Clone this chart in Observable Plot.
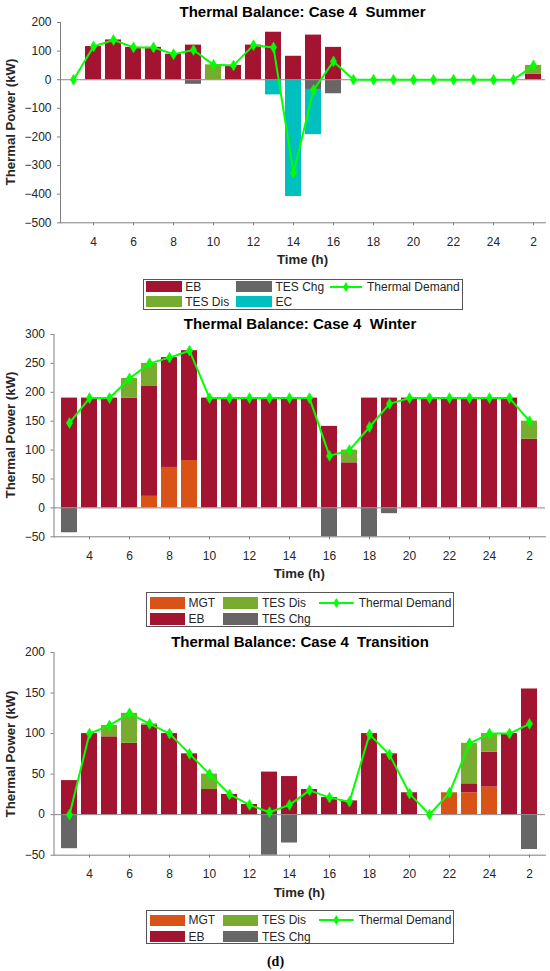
<!DOCTYPE html>
<html><head><meta charset="utf-8">
<script src="https://cdn.jsdelivr.net/npm/d3@7"></script>
<script src="https://cdn.jsdelivr.net/npm/@observablehq/plot@0.6"></script>
<style>
body{margin:0;background:#fff;font-family:"Liberation Sans",Arial,sans-serif;}
#root{position:relative;width:550px;height:971px;overflow:hidden;background:#fff;}
.abs{position:absolute;}
.title{font-weight:bold;font-size:15px;color:#000;white-space:pre;transform:translate(-50%,-50%);}
.xlab{font-weight:bold;font-size:13.2px;color:#262626;white-space:nowrap;transform:translate(-50%,-50%);}
.ylab{font-weight:bold;font-size:13.2px;color:#262626;white-space:nowrap;transform:translate(-50%,-50%) rotate(-90deg);}
.legend{border:1px solid #555;background:#fff;box-sizing:border-box;}
.item{position:absolute;display:flex;align-items:center;font-size:12px;color:#262626;white-space:nowrap;transform:translateY(-50%);}
.cap{font-family:"Liberation Serif","Times New Roman",serif;font-weight:bold;font-size:14px;color:#000;transform:translate(-50%,-50%);}
</style>
</head><body><div id="root"></div>
<script>
// ---------- data ----------
const hourLabels = ["3","4","5","6","7","8","9","10","11","12","13","14","15","16","17","18","19","20","21","22","23","24","1","2"];
const xTickLabels = ["4","6","8","10","12","14","16","18","20","22","24","2"];

// Summer
const summerEB      = [0,116,139,113,113,89,121,0,50,121,166,82,156,113,0,0,0,0,0,0,0,0,0,20];
const summerTESDis  = [0,0,0,0,0,0,0,52,0,0,0,0,0,0,0,0,0,0,0,0,0,0,0,30];
const summerTESChg  = [0,0,0,0,0,0,-16,0,0,0,0,0,-34,-49,0,0,0,0,0,0,0,0,0,0];
const summerEC      = [0,0,0,0,0,0,0,0,0,0,-53,-408,-158,0,0,0,0,0,0,0,0,0,0,0];
const summerDemand  = [0,116,139,113,113,89,104,52,50,121,113,-326,-36,64,0,0,0,0,0,0,0,0,0,50];
const summerYTicks  = [-500,-400,-300,-200,-100,0,100,200];

// Winter
const winterMGT     = [0,0,0,0,20,70,82,0,0,0,0,0,0,0,0,0,0,0,0,0,0,0,0,0];
const winterEB      = [190,190,190,190,190,190,190,190,190,190,190,190,190,141,78,190,190,190,190,190,190,190,190,119];
const winterTESDis  = [0,0,0,34,40,0,0,0,0,0,0,0,0,0,22,0,0,0,0,0,0,0,0,31];
const winterTESChg  = [-43,0,0,0,0,0,0,0,0,0,0,0,0,-50,0,-50,-10,0,0,0,0,0,0,0];
const winterDemand  = [147,190,190,224,250,260,272,190,190,190,190,190,190,90,100,140,180,190,190,190,190,190,190,150];
const winterYTicks  = [-50,0,50,100,150,200,250,300];

// Transition
const transMGT      = [0,0,0,0,0,0,0,0,0,0,0,0,0,0,0,0,0,0,0,27,27,34,0,0];
const transEB       = [42,100,96,88,110,100,75,31,25,12.5,52.5,47,31,21,17,100,75,27,0,0,11,43,100,155];
const transTESDis   = [0,0,14,37,2,0,0,19,0,0,0,0,0,0,0,0,0,0,0,0,50,23,0,0];
const transTESChg   = [-42,0,0,0,0,0,0,0,0,0,-50,-35,0,0,0,0,0,0,0,0,0,0,0,-43];
const transDemand   = [0,100,110,125,112,100,75,50,25,12,3,12,30,21,16,99,74,26,0,27,88,100,100,112];
const transYTicks   = [-50,0,50,100,150,200];

const C = {MGT:"#D95319", EB:"#A2142F", "TES Dis":"#77AC30", "TES Chg":"#666666", EC:"#00BFBF", demand:"#00FF00"};

const root = document.getElementById("root");

function addDiv(cls, text, x, y, extraStyle) {
  const d = document.createElement("div");
  d.className = "abs " + cls;
  d.textContent = text;
  d.style.left = x + "px";
  d.style.top = y + "px";
  if (extraStyle) Object.assign(d.style, extraStyle);
  root.appendChild(d);
  return d;
}

function panel(cfg) {
  const mt = 6, mb = 30;
  const names = cfg.series.map(s => s.name);
  const table = [];
  cfg.series.forEach(s => s.values.forEach((v, i) => {
    if (v !== 0) table.push({hour: hourLabels[i], series: s.name, value: v});
  }));
  const dem = cfg.demand.map((v, i) => ({hour: hourLabels[i], value: v}));
  const h = mt + (cfg.bottom - cfg.top) + mb;
  const chart = Plot.plot({
    width: 550, height: h,
    marginLeft: cfg.left, marginRight: 550 - cfg.right, marginTop: mt, marginBottom: mb,
    style: {fontFamily: "Liberation Sans, Arial, sans-serif", fontSize: "12px", color: "#262626", background: "transparent", overflow: "visible"},
    x: {type: "band", domain: hourLabels, paddingInner: 0.2, paddingOuter: 0.1, axis: null},
    y: {domain: cfg.yDomain, axis: null},
    color: {domain: names, range: names.map(n => C[n])},
    marks: [
      Plot.barY(table, Plot.stackY({x: "hour", y: "value", fill: "series", order: names})),
      Plot.ruleY([0], {stroke: "#8a8a8a", strokeWidth: 1}),
      Plot.line(dem, {x: "hour", y: "value", stroke: C.demand, strokeWidth: 2}),
      Plot.dot(dem, {x: "hour", y: "value", symbol: "diamond", r: 3.3, fill: C.demand, stroke: C.demand, strokeWidth: 0.6}),
      Plot.axisX({ticks: xTickLabels, tickSize: 3, tickPadding: 11.5, color: "#262626", stroke: "#808080", fontSize: 12, label: null}),
      Plot.axisY({ticks: cfg.yTicks, tickSize: 3, tickPadding: 6, color: "#262626", stroke: "#808080", fontSize: 12, label: null}),
      Plot.frame({anchor: "left", stroke: "#808080"}),
      Plot.frame({anchor: "bottom", stroke: "#808080"})
    ]
  });
  chart.style.position = "absolute";
  chart.style.left = "0px";
  chart.style.top = (cfg.top - mt) + "px";
  root.appendChild(chart);

  const cx = (cfg.left + cfg.right) / 2;
  addDiv("title", cfg.title, cfg.titleX, cfg.titleY);
  addDiv("xlab", "Time (h)", cx, cfg.bottom + 37);
  addDiv("ylab", "Thermal Power (kW)", 10, (cfg.top + cfg.bottom) / 2);

  // legend
  const L = cfg.legend;
  const box = document.createElement("div");
  box.className = "abs legend";
  Object.assign(box.style, {left: L.x + "px", top: L.y + "px", width: L.w + "px", height: L.h + "px"});
  root.appendChild(box);
  L.items.forEach(it => {
    const item = document.createElement("div");
    item.className = "item";
    item.style.left = L.cols[it.col] + "px";
    item.style.top = L.rows[it.row] + "px";
    if (it.name === "Thermal Demand") {
      const s = document.createElementNS("http://www.w3.org/2000/svg", "svg");
      s.setAttribute("width", L.lineW); s.setAttribute("height", 12);
      s.innerHTML = `<line x1="0" y1="6" x2="${L.lineW}" y2="6" stroke="${C.demand}" stroke-width="2"/>` +
        `<path d="M${L.lineW/2},1 L${L.lineW/2+3},6 L${L.lineW/2},11 L${L.lineW/2-3},6 Z" fill="${C.demand}"/>`;
      s.style.marginRight = "5px";
      item.appendChild(s);
    } else {
      const sw = document.createElement("span");
      Object.assign(sw.style, {display: "inline-block", width: L.swW + "px", height: L.swH + "px", background: C[it.name], marginRight: "3.5px"});
      item.appendChild(sw);
    }
    const t = document.createElement("span");
    t.textContent = it.name;
    item.appendChild(t);
    box.appendChild(item);
  });
}

panel({
  title: "Thermal Balance: Case 4  Summer", titleX: 302.5, titleY: 11,
  top: 21.7, bottom: 222, left: 60, right: 545,
  yDomain: [-500, 200], yTicks: summerYTicks,
  series: [{name: "EB", values: summerEB}, {name: "TES Dis", values: summerTESDis}, {name: "TES Chg", values: summerTESChg}, {name: "EC", values: summerEC}],
  demand: summerDemand,
  legend: {x: 142.7, y: 279, w: 320.6, h: 31, cols: [2, 92.3, 186.3], rows: [6.5, 21.5], swW: 36, swH: 11, lineW: 32,
    items: [{name: "EB", col: 0, row: 0}, {name: "TES Dis", col: 0, row: 1}, {name: "TES Chg", col: 1, row: 0}, {name: "EC", col: 1, row: 1}, {name: "Thermal Demand", col: 2, row: 0}]}
});

panel({
  title: "Thermal Balance: Case 4  Winter", titleX: 300, titleY: 322.5,
  top: 334, bottom: 536.3, left: 53.5, right: 545,
  yDomain: [-50, 300], yTicks: winterYTicks,
  series: [{name: "MGT", values: winterMGT}, {name: "EB", values: winterEB}, {name: "TES Dis", values: winterTESDis}, {name: "TES Chg", values: winterTESChg}],
  demand: winterDemand,
  legend: {x: 146.3, y: 592, w: 308, h: 35, cols: [2.7, 76.2, 171.7], rows: [9.8, 26], swW: 35, swH: 11.5, lineW: 34.7,
    items: [{name: "MGT", col: 0, row: 0}, {name: "EB", col: 0, row: 1}, {name: "TES Dis", col: 1, row: 0}, {name: "TES Chg", col: 1, row: 1}, {name: "Thermal Demand", col: 2, row: 0}]}
});

panel({
  title: "Thermal Balance: Case 4  Transition", titleX: 300, titleY: 641,
  top: 652.3, bottom: 855, left: 53.5, right: 545,
  yDomain: [-50, 200], yTicks: transYTicks,
  series: [{name: "MGT", values: transMGT}, {name: "EB", values: transEB}, {name: "TES Dis", values: transTESDis}, {name: "TES Chg", values: transTESChg}],
  demand: transDemand,
  legend: {x: 146.3, y: 910, w: 308, h: 34, cols: [2.7, 76.2, 171.7], rows: [9.3, 25.5], swW: 35, swH: 11.5, lineW: 34.7,
    items: [{name: "MGT", col: 0, row: 0}, {name: "EB", col: 0, row: 1}, {name: "TES Dis", col: 1, row: 0}, {name: "TES Chg", col: 1, row: 1}, {name: "Thermal Demand", col: 2, row: 0}]}
});

addDiv("cap", "(d)", 275.5, 962);
</script>
</body></html>
